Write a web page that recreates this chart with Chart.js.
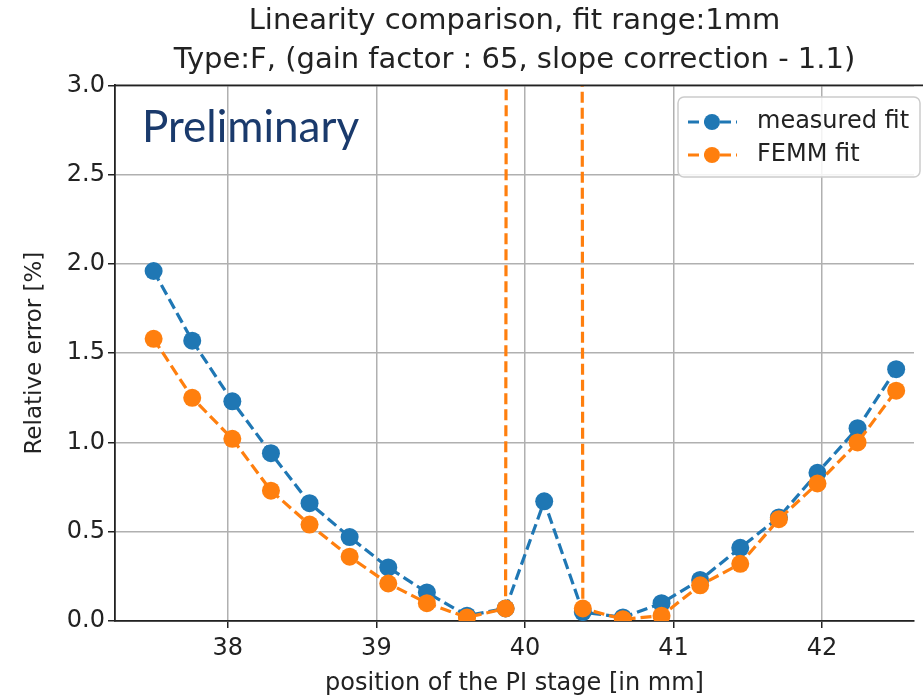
<!DOCTYPE html>
<html>
<head>
<meta charset="utf-8">
<script src="https://cdn.jsdelivr.net/npm/chart.js@4.4.1/dist/chart.umd.min.js"></script>
<style>
  html, body { margin: 0; padding: 0; background: #fff; }
  #wrap { position: relative; width: 923px; height: 698px; }
</style>
</head>
<body>
<div id="wrap"><canvas id="chart" width="923" height="698"></canvas></div>
<script>
// ==== Data ====
const positions = [37.50, 37.76, 38.03, 38.29, 38.55, 38.82, 39.08, 39.34, 39.61, 39.87,
                   40.13, 40.39, 40.66, 40.92, 41.18, 41.45, 41.71, 41.97, 42.24, 42.50];
const measuredFit = [1.96, 1.57, 1.23, 0.94, 0.66, 0.47, 0.30, 0.16, 0.03, 0.07,
                     0.67, 0.05, 0.02, 0.10, 0.23, 0.41, 0.58, 0.83, 1.08, 1.41];
// the FEMM point at ~40.13 is far off the top of the plot
const femmFit = [1.58, 1.25, 1.02, 0.73, 0.54, 0.36, 0.21, 0.10, 0.02, 0.07,
                 250, 0.07, 0.01, 0.03, 0.20, 0.32, 0.57, 0.77, 1.00, 1.29];
const xTicks = [38, 39, 40, 41, 42];
const yTicks = [0, 0.5, 1.0, 1.5, 2.0, 2.5, 3.0];
const titleLines = ["Linearity comparison, fit range:1mm",
                    "Type:F, (gain factor : 65, slope correction - 1.1)"];

const BLUE = "#1f77b4";
const ORANGE = "#ff7f0e";

Chart.defaults.font.family = "'DejaVu Sans', sans-serif";
Chart.defaults.color = "#222";

// ==== Extras: top spine, boxed legend, "Preliminary" note ====
const extrasPlugin = {
  id: "extras",
  afterDraw(chart) {
    const ctx = chart.ctx;
    const area = chart.chartArea;
    ctx.save();

    // top spine
    ctx.strokeStyle = "#222";
    ctx.lineWidth = 1.8;
    ctx.beginPath();
    ctx.moveTo(area.left, area.top);
    ctx.lineTo(chart.width, area.top);
    ctx.stroke();

    // legend box
    const bx = 678, by = 97, bw = 242, bh = 80;
    ctx.fillStyle = "rgba(255,255,255,0.85)";
    ctx.strokeStyle = "#cccccc";
    ctx.lineWidth = 1.5;
    ctx.beginPath();
    ctx.roundRect(bx, by, bw, bh, 6);
    ctx.fill();
    ctx.stroke();

    chart.data.datasets.forEach((ds, i) => {
      const y = 122 + i * 33;
      ctx.strokeStyle = ds.borderColor;
      ctx.lineWidth = 3.2;
      ctx.setLineDash([11, 5]);
      ctx.beginPath();
      ctx.moveTo(688, y);
      ctx.lineTo(737, y);
      ctx.stroke();
      ctx.setLineDash([]);
      ctx.fillStyle = ds.pointBackgroundColor;
      ctx.beginPath();
      ctx.arc(712, y, 8, 0, Math.PI * 2);
      ctx.fill();
      ctx.fillStyle = "#222";
      ctx.font = "24px 'DejaVu Sans'";
      ctx.textBaseline = "middle";
      ctx.textAlign = "left";
      ctx.fillText(ds.label, 757, y);
    });

    // preliminary note
    ctx.fillStyle = "#1a3a6c";
    ctx.font = "44px Lato";
    ctx.textBaseline = "alphabetic";
    ctx.fillText("Preliminary", 142, 142);

    ctx.restore();
  }
};

// ==== Chart ====
const chart = new Chart(document.getElementById("chart"), {
  type: "line",
  data: {
    datasets: [{
      label: "measured fit",
      data: positions.map((x, i) => ({ x: x, y: measuredFit[i] })),
      borderColor: BLUE,
      pointBackgroundColor: BLUE,
      borderWidth: 3.2,
      borderDash: [11, 5],
      pointRadius: 9,
      pointBorderWidth: 0,
      order: 1,
      clip: 0
    }, {
      label: "FEMM fit",
      data: positions.map((x, i) => ({ x: x, y: femmFit[i] })),
      borderColor: ORANGE,
      pointBackgroundColor: ORANGE,
      borderWidth: 3.2,
      borderDash: [11, 5],
      pointRadius: 9,
      pointBorderWidth: 0,
      order: 0,
      clip: 0
    }]
  },
  options: {
    responsive: false,
    animation: false,
    layout: { padding: 0 },
    plugins: {
      legend: { display: false },
      tooltip: { enabled: false },
      title: {
        display: true,
        text: titleLines,
        fullSize: false,
        color: "#222",
        font: { size: 29, weight: "normal", lineHeight: 1.35 },
        padding: { top: 2, bottom: 5 }
      }
    },
    scales: {
      x: {
        type: "linear",
        min: 37.24,
        max: 42.62,
        afterBuildTicks: (axis) => { axis.ticks = xTicks.map(v => ({ value: v })); },
        afterFit: (scale) => { scale.height = 77; },
        ticks: { font: { size: 24 }, color: "#222", padding: 6, maxRotation: 0 },
        grid: { color: "#b0b0b0", lineWidth: 1.5, tickColor: "#222", tickLength: 7, tickWidth: 1.5 },
        border: { color: "#222", width: 1.8 },
        title: {
          display: true,
          text: "position of the PI stage [in mm]",
          font: { size: 24 },
          color: "#222",
          padding: 0
        }
      },
      y: {
        min: 0,
        max: 3,
        afterBuildTicks: (axis) => { axis.ticks = yTicks.map(v => ({ value: v })); },
        afterFit: (scale) => { scale.width = 115; },
        ticks: { font: { size: 24 }, color: "#222", padding: 3, callback: (v) => v.toFixed(1) },
        grid: { color: "#b0b0b0", lineWidth: 1.5, tickColor: "#222", tickLength: 7, tickWidth: 1.5 },
        border: { color: "#222", width: 1.8 },
        title: {
          display: true,
          text: "Relative error [%]",
          font: { size: 23 },
          color: "#222",
          padding: { top: 21 }
        }
      }
    }
  },
  plugins: [extrasPlugin]
});
</script>
</body>
</html>
